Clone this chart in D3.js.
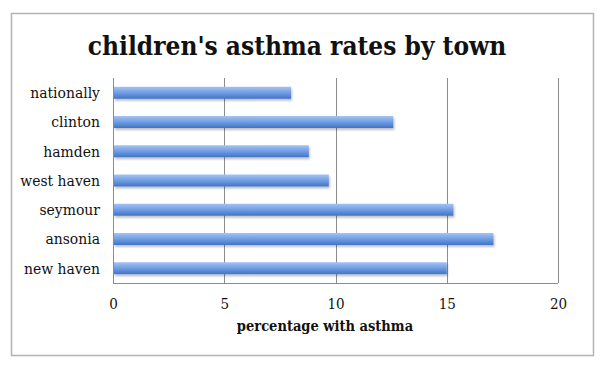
<!DOCTYPE html>
<html>
<head>
<meta charset="utf-8">
<script src="https://cdn.jsdelivr.net/npm/d3@7"></script>
<style>
  body { margin: 0; background: #fff; }
  text { font-family: "DejaVu Serif Condensed", "DejaVu Serif", serif; fill: #111; }
</style>
</head>
<body>
<div id="chart-container"></div>
<script>
// data
var towns = ["nationally", "clinton", "hamden", "west haven", "seymour", "ansonia", "new haven"];
var rates = [8.0, 12.6, 8.8, 9.7, 15.3, 17.1, 15.0];
var xTicks = [0, 5, 10, 15, 20];

var w = 600, h = 367;
var plotLeft = 113, plotRight = 558, plotTop = 78, plotBottom = 283;

var dataset = towns.map(function(t, i){ return {name: t, value: rates[i]}; });

var svg = d3.select("#chart-container").append("svg")
    .attr("width", w).attr("height", h);

var defs = svg.append("defs");
var grad = defs.append("linearGradient")
    .attr("id", "barGrad").attr("x1", 0).attr("y1", 0).attr("x2", 0).attr("y2", 1);
grad.append("stop").attr("offset", "0%").attr("stop-color", "#a3c3f4");
grad.append("stop").attr("offset", "45%").attr("stop-color", "#76a1e4");
grad.append("stop").attr("offset", "100%").attr("stop-color", "#3f74c8");

var shadow = defs.append("filter").attr("id", "shadow")
    .attr("x", "-5%").attr("y", "-30%").attr("width", "110%").attr("height", "180%");
shadow.append("feDropShadow").attr("dx", 1).attr("dy", 2).attr("stdDeviation", 1)
    .attr("flood-color", "#000").attr("flood-opacity", 0.25);

// outer frame
svg.append("rect")
    .attr("x", 11.5).attr("y", 13.5).attr("width", 582).attr("height", 342)
    .attr("fill", "#fff").attr("stroke", "#b3b3b3").attr("stroke-width", 1.5);

var xScale = d3.scaleLinear().domain([0, 20]).range([plotLeft, plotRight]);
var yScale = d3.scaleBand().domain(towns).range([plotTop, plotBottom]).paddingInner(0.59).paddingOuter(0.3);

// gridlines
svg.append("g").selectAll("line")
    .data(xTicks)
    .enter().append("line")
    .attr("x1", function(d){ return Math.round(xScale(d)) + 0.5; })
    .attr("x2", function(d){ return Math.round(xScale(d)) + 0.5; })
    .attr("y1", plotTop).attr("y2", plotBottom)
    .attr("stroke", "#8c8c8c").attr("stroke-width", 1);

// plot area bottom edge
svg.append("line")
    .attr("x1", plotLeft).attr("x2", plotRight)
    .attr("y1", plotBottom + 0.5).attr("y2", plotBottom + 0.5)
    .attr("stroke", "#8c8c8c");

// bars
svg.append("g").selectAll("rect")
    .data(dataset)
    .enter().append("rect")
    .attr("x", xScale(0) + 1)
    .attr("y", function(d){ return yScale(d.name); })
    .attr("width", function(d){ return xScale(d.value) - xScale(0) - 1; })
    .attr("height", yScale.bandwidth())
    .attr("fill", "url(#barGrad)")
    .attr("filter", "url(#shadow)");

// y labels
svg.append("g").selectAll("text")
    .data(towns)
    .enter().append("text")
    .attr("x", plotLeft - 13)
    .attr("y", function(d){ return yScale(d) + yScale.bandwidth() / 2; })
    .attr("dy", "0.35em")
    .attr("text-anchor", "end")
    .style("font-size", "15.5px")
    .text(function(d){ return d; });

// x tick labels
var xAxis = d3.axisBottom(xScale).tickValues(xTicks).tickSize(0).tickPadding(15);
var ax = svg.append("g")
    .attr("transform", "translate(0," + plotBottom + ")")
    .call(xAxis);
ax.select(".domain").remove();
ax.selectAll("text")
    .style("font-family", "'DejaVu Serif Condensed', 'DejaVu Serif', serif")
    .style("font-size", "15px")
    .attr("fill", "#111");

// axis title
svg.append("text")
    .attr("x", 325).attr("y", 331)
    .attr("text-anchor", "middle")
    .style("font-size", "14.5px").style("font-weight", "bold")
    .text("percentage with asthma");

// chart title
svg.append("text")
    .attr("x", 297).attr("y", 55)
    .attr("text-anchor", "middle")
    .style("font-size", "26px").style("font-weight", "bold")
    .text("children's asthma rates by town");
</script>
</body>
</html>
